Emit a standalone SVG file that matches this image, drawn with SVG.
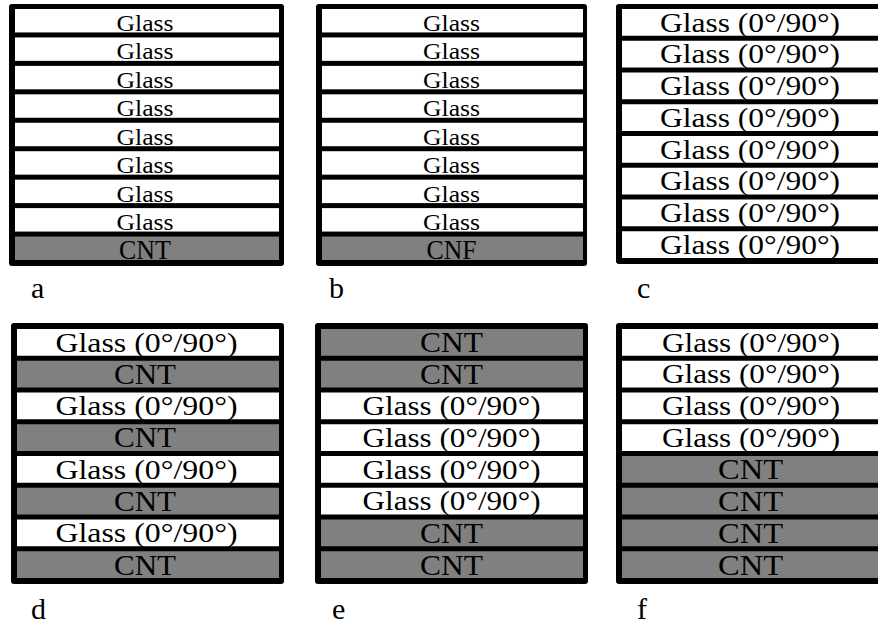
<svg xmlns="http://www.w3.org/2000/svg" width="878" height="624" viewBox="0 0 878 624">
  <style>
    .frame { fill: #000; }
    .glass { fill: #fff; }
    .cnt { fill: #808080; }
    text { font-family: "Liberation Serif", "Times New Roman", serif; fill: #000; text-anchor: middle; }
    .t9 { font-size: 24px; }
    .c9 { font-size: 27px; }
    .t8 { font-size: 27px; }
    .c8 { font-size: 29px; }
    .lbl { font-size: 30px; text-anchor: start; }
  </style>

  <!-- a: 8 glass plies on a CNT ply -->
  <g id="stack-a">
    <rect class="frame" x="9" y="4" width="275" height="262" rx="3"/>
    <rect class="glass" x="15" y="9" width="264" height="23.44"/>
    <rect class="glass" x="15" y="37.44" width="264" height="23.44"/>
    <rect class="glass" x="15" y="65.89" width="264" height="23.44"/>
    <rect class="glass" x="15" y="94.33" width="264" height="23.44"/>
    <rect class="glass" x="15" y="122.78" width="264" height="23.44"/>
    <rect class="glass" x="15" y="151.22" width="264" height="23.44"/>
    <rect class="glass" x="15" y="179.67" width="264" height="23.44"/>
    <rect class="glass" x="15" y="208.11" width="264" height="23.44"/>
    <rect class="cnt" x="15" y="236.56" width="264" height="23.44"/>
    <text class="t9" x="145" y="31" textLength="57" lengthAdjust="spacingAndGlyphs">Glass</text>
    <text class="t9" x="145" y="59.4" textLength="57" lengthAdjust="spacingAndGlyphs">Glass</text>
    <text class="t9" x="145" y="87.9" textLength="57" lengthAdjust="spacingAndGlyphs">Glass</text>
    <text class="t9" x="145" y="116.3" textLength="57" lengthAdjust="spacingAndGlyphs">Glass</text>
    <text class="t9" x="145" y="144.8" textLength="57" lengthAdjust="spacingAndGlyphs">Glass</text>
    <text class="t9" x="145" y="173.2" textLength="57" lengthAdjust="spacingAndGlyphs">Glass</text>
    <text class="t9" x="145" y="201.7" textLength="57" lengthAdjust="spacingAndGlyphs">Glass</text>
    <text class="t9" x="145" y="230.1" textLength="57" lengthAdjust="spacingAndGlyphs">Glass</text>
    <text class="c9" x="145" y="259" textLength="52" lengthAdjust="spacingAndGlyphs">CNT</text>
    <text class="lbl" x="31" y="298">a</text>
  </g>

  <!-- b: 8 glass plies on a CNF ply -->
  <g id="stack-b">
    <rect class="frame" x="316" y="4" width="271" height="262" rx="3"/>
    <rect class="glass" x="322" y="9" width="261" height="23.44"/>
    <rect class="glass" x="322" y="37.44" width="261" height="23.44"/>
    <rect class="glass" x="322" y="65.89" width="261" height="23.44"/>
    <rect class="glass" x="322" y="94.33" width="261" height="23.44"/>
    <rect class="glass" x="322" y="122.78" width="261" height="23.44"/>
    <rect class="glass" x="322" y="151.22" width="261" height="23.44"/>
    <rect class="glass" x="322" y="179.67" width="261" height="23.44"/>
    <rect class="glass" x="322" y="208.11" width="261" height="23.44"/>
    <rect class="cnt" x="322" y="236.56" width="261" height="23.44"/>
    <text class="t9" x="451.5" y="31" textLength="57" lengthAdjust="spacingAndGlyphs">Glass</text>
    <text class="t9" x="451.5" y="59.4" textLength="57" lengthAdjust="spacingAndGlyphs">Glass</text>
    <text class="t9" x="451.5" y="87.9" textLength="57" lengthAdjust="spacingAndGlyphs">Glass</text>
    <text class="t9" x="451.5" y="116.3" textLength="57" lengthAdjust="spacingAndGlyphs">Glass</text>
    <text class="t9" x="451.5" y="144.8" textLength="57" lengthAdjust="spacingAndGlyphs">Glass</text>
    <text class="t9" x="451.5" y="173.2" textLength="57" lengthAdjust="spacingAndGlyphs">Glass</text>
    <text class="t9" x="451.5" y="201.7" textLength="57" lengthAdjust="spacingAndGlyphs">Glass</text>
    <text class="t9" x="451.5" y="230.1" textLength="57" lengthAdjust="spacingAndGlyphs">Glass</text>
    <text class="c9" x="451.5" y="259" textLength="50" lengthAdjust="spacingAndGlyphs">CNF</text>
    <text class="lbl" x="329" y="298">b</text>
  </g>

  <!-- c: 8 cross-ply glass plies -->
  <g id="stack-c">
    <rect class="frame" x="616" y="4" width="268" height="260" rx="3"/>
    <rect class="glass" x="622" y="9" width="256" height="26.75"/>
    <rect class="glass" x="622" y="40.75" width="256" height="26.75"/>
    <rect class="glass" x="622" y="72.5" width="256" height="26.75"/>
    <rect class="glass" x="622" y="104.25" width="256" height="26.75"/>
    <rect class="glass" x="622" y="136" width="256" height="26.75"/>
    <rect class="glass" x="622" y="167.75" width="256" height="26.75"/>
    <rect class="glass" x="622" y="199.5" width="256" height="26.75"/>
    <rect class="glass" x="622" y="231.25" width="256" height="26.75"/>
    <text class="t8" x="750" y="31.5" textLength="180" lengthAdjust="spacingAndGlyphs">Glass (0°/90°)</text>
    <text class="t8" x="750" y="63.25" textLength="180" lengthAdjust="spacingAndGlyphs">Glass (0°/90°)</text>
    <text class="t8" x="750" y="95" textLength="180" lengthAdjust="spacingAndGlyphs">Glass (0°/90°)</text>
    <text class="t8" x="750" y="126.75" textLength="180" lengthAdjust="spacingAndGlyphs">Glass (0°/90°)</text>
    <text class="t8" x="750" y="158.5" textLength="180" lengthAdjust="spacingAndGlyphs">Glass (0°/90°)</text>
    <text class="t8" x="750" y="190.25" textLength="180" lengthAdjust="spacingAndGlyphs">Glass (0°/90°)</text>
    <text class="t8" x="750" y="222" textLength="180" lengthAdjust="spacingAndGlyphs">Glass (0°/90°)</text>
    <text class="t8" x="750" y="253.75" textLength="180" lengthAdjust="spacingAndGlyphs">Glass (0°/90°)</text>
    <text class="lbl" x="637" y="298">c</text>
  </g>

  <!-- d: alternating glass / CNT -->
  <g id="stack-d">
    <rect class="frame" x="11" y="323" width="273" height="261" rx="3"/>
    <rect class="glass" x="17" y="329" width="262" height="26.75"/>
    <rect class="cnt" x="17" y="360.75" width="262" height="26.75"/>
    <rect class="glass" x="17" y="392.5" width="262" height="26.75"/>
    <rect class="cnt" x="17" y="424.25" width="262" height="26.75"/>
    <rect class="glass" x="17" y="456" width="262" height="26.75"/>
    <rect class="cnt" x="17" y="487.75" width="262" height="26.75"/>
    <rect class="glass" x="17" y="519.5" width="262" height="26.75"/>
    <rect class="cnt" x="17" y="551.25" width="262" height="26.75"/>
    <text class="t8" x="146.5" y="351.5" textLength="182" lengthAdjust="spacingAndGlyphs">Glass (0°/90°)</text>
    <text class="c8" x="145" y="383.5" textLength="62" lengthAdjust="spacingAndGlyphs">CNT</text>
    <text class="t8" x="146.5" y="415" textLength="182" lengthAdjust="spacingAndGlyphs">Glass (0°/90°)</text>
    <text class="c8" x="145" y="447" textLength="62" lengthAdjust="spacingAndGlyphs">CNT</text>
    <text class="t8" x="146.5" y="478.5" textLength="182" lengthAdjust="spacingAndGlyphs">Glass (0°/90°)</text>
    <text class="c8" x="145" y="510.5" textLength="62" lengthAdjust="spacingAndGlyphs">CNT</text>
    <text class="t8" x="146.5" y="542" textLength="182" lengthAdjust="spacingAndGlyphs">Glass (0°/90°)</text>
    <text class="c8" x="145" y="574.5" textLength="62" lengthAdjust="spacingAndGlyphs">CNT</text>
    <text class="lbl" x="31" y="619">d</text>
  </g>

  <!-- e: CNT skins around a glass core -->
  <g id="stack-e">
    <rect class="frame" x="315" y="323" width="273" height="261" rx="3"/>
    <rect class="cnt" x="321" y="329" width="262" height="26.75"/>
    <rect class="cnt" x="321" y="360.75" width="262" height="26.75"/>
    <rect class="glass" x="321" y="392.5" width="262" height="26.75"/>
    <rect class="glass" x="321" y="424.25" width="262" height="26.75"/>
    <rect class="glass" x="321" y="456" width="262" height="26.75"/>
    <rect class="glass" x="321" y="487.75" width="262" height="26.75"/>
    <rect class="cnt" x="321" y="519.5" width="262" height="26.75"/>
    <rect class="cnt" x="321" y="551.25" width="262" height="26.75"/>
    <text class="c8" x="451.5" y="352" textLength="63" lengthAdjust="spacingAndGlyphs">CNT</text>
    <text class="c8" x="451.5" y="383.5" textLength="63" lengthAdjust="spacingAndGlyphs">CNT</text>
    <text class="t8" x="451.5" y="415" textLength="178" lengthAdjust="spacingAndGlyphs">Glass (0°/90°)</text>
    <text class="t8" x="451.5" y="446.75" textLength="178" lengthAdjust="spacingAndGlyphs">Glass (0°/90°)</text>
    <text class="t8" x="451.5" y="478.5" textLength="178" lengthAdjust="spacingAndGlyphs">Glass (0°/90°)</text>
    <text class="t8" x="451.5" y="510.25" textLength="178" lengthAdjust="spacingAndGlyphs">Glass (0°/90°)</text>
    <text class="c8" x="451.5" y="542.5" textLength="63" lengthAdjust="spacingAndGlyphs">CNT</text>
    <text class="c8" x="451.5" y="574.5" textLength="63" lengthAdjust="spacingAndGlyphs">CNT</text>
    <text class="lbl" x="332" y="619">e</text>
  </g>

  <!-- f: glass block over CNT block -->
  <g id="stack-f">
    <rect class="frame" x="616" y="323" width="268" height="261" rx="3"/>
    <rect class="glass" x="622" y="329" width="256" height="26.75"/>
    <rect class="glass" x="622" y="360.75" width="256" height="26.75"/>
    <rect class="glass" x="622" y="392.5" width="256" height="26.75"/>
    <rect class="glass" x="622" y="424.25" width="256" height="26.75"/>
    <rect class="cnt" x="622" y="456" width="256" height="26.75"/>
    <rect class="cnt" x="622" y="487.75" width="256" height="26.75"/>
    <rect class="cnt" x="622" y="519.5" width="256" height="26.75"/>
    <rect class="cnt" x="622" y="551.25" width="256" height="26.75"/>
    <text class="t8" x="751" y="351.5" textLength="178" lengthAdjust="spacingAndGlyphs">Glass (0°/90°)</text>
    <text class="t8" x="751" y="383.25" textLength="178" lengthAdjust="spacingAndGlyphs">Glass (0°/90°)</text>
    <text class="t8" x="751" y="415" textLength="178" lengthAdjust="spacingAndGlyphs">Glass (0°/90°)</text>
    <text class="t8" x="751" y="446.75" textLength="178" lengthAdjust="spacingAndGlyphs">Glass (0°/90°)</text>
    <text class="c8" x="750.5" y="479" textLength="65" lengthAdjust="spacingAndGlyphs">CNT</text>
    <text class="c8" x="750.5" y="510.5" textLength="65" lengthAdjust="spacingAndGlyphs">CNT</text>
    <text class="c8" x="750.5" y="542.5" textLength="65" lengthAdjust="spacingAndGlyphs">CNT</text>
    <text class="c8" x="750.5" y="574.5" textLength="65" lengthAdjust="spacingAndGlyphs">CNT</text>
    <text class="lbl" x="637" y="619">f</text>
  </g>
</svg>
